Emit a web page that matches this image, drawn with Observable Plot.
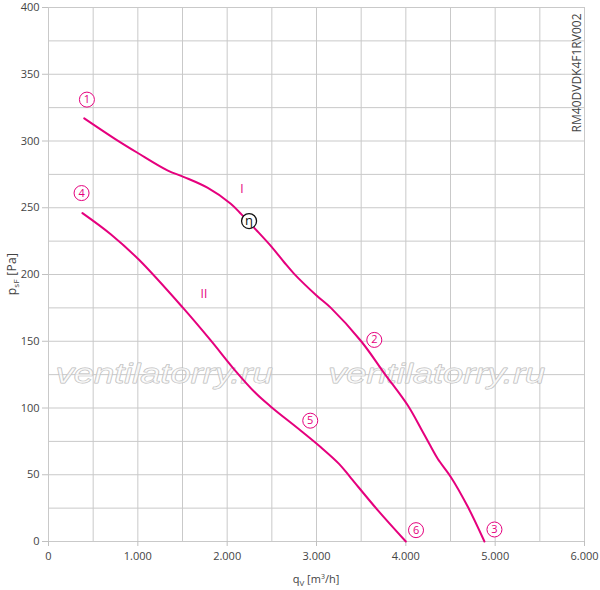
<!DOCTYPE html>
<html><head><meta charset="utf-8">
<script src="https://cdn.jsdelivr.net/npm/d3@7"></script>
<script src="https://cdn.jsdelivr.net/npm/@observablehq/plot@0.6"></script>
<style>body{margin:0;background:#fff;font-family:"Open Sans",sans-serif}</style>
</head><body><div id="chart"></div>
<script>
// Curve I (points 1 -> 2 -> 3)
const curve1Q = [400, 770, 1000, 1331, 1517, 1779, 2040, 2160, 2330, 2500, 2640, 2750, 3000, 3161, 3500, 3759, 4021, 4170, 4264, 4357, 4507, 4694, 4880];
const curve1P = [317, 300.5, 291, 278, 273, 265, 253, 245, 233, 220.5, 209, 200.5, 184.3, 175, 150, 126, 102, 84.5, 73, 62, 48, 26, 0];
// Curve II (points 4 -> 5 -> 6)
const curve2Q = [380, 700, 1013, 1499, 1816, 2078, 2321, 2489, 2825, 3049, 3255, 3386, 3685, 4000];
const curve2P = [246, 230, 211, 175.5, 150.6, 129, 111, 101, 83, 70.6, 58, 47.5, 23.5, 0];
// circled point labels
const pointText = ["1", "2", "3", "4", "5", "6"];
const pointQ = [430, 3647, 4992, 370, 2930, 4114];
const pointP = [331, 151, 9, 261, 90.5, 8.5];
// curve names
const curveText = ["I", "II"];
const curveQ = [2165, 1740];
const curveP = [264, 185];
// efficiency marker
const etaText = ["η"];
const etaQ = [2245];
const etaP = [240];
// ticks
const xTicks = [0, 1000, 2000, 3000, 4000, 5000, 6000];
const yTicks = [0, 50, 100, 150, 200, 250, 300, 350, 400];
const xGrid = [0, 500, 1000, 1500, 2000, 2500, 3000, 3500, 4000, 4500, 5000, 5500, 6000];
const yGrid = [0, 25, 50, 75, 100, 125, 150, 175, 200, 225, 250, 275, 300, 325, 350, 375, 400];
const modelText = ["RM40DVDK4F1RV002"];
const watermarkText = ["ventilatorry.ru", "ventilatorry.ru"];
const watermarkQ = [1295, 4345];
const watermarkP = [119, 119];

const c1 = curve1Q.map((q, i) => ({q, p: curve1P[i]}));
const c2 = curve2Q.map((q, i) => ({q, p: curve2P[i]}));
const pts = pointText.map((t, i) => ({t, q: pointQ[i], p: pointP[i]}));
const names = curveText.map((t, i) => ({t, q: curveQ[i], p: curveP[i]}));
const eta = etaText.map((t, i) => ({t, q: etaQ[i], p: etaP[i]}));
const wm = watermarkText.map((t, i) => ({t, q: watermarkQ[i], p: watermarkP[i]}));

const fmt = d3.formatLocale({decimal: ",", thousands: ".", grouping: [3], currency: ["", ""]}).format(",");
const MAG = "#e5007d";

const plot = Plot.plot({
  width: 600, height: 590,
  marginLeft: 48, marginRight: 16, marginTop: 7, marginBottom: 49,
  style: {fontFamily: "'Open Sans', sans-serif", background: "#fff"},
  x: {domain: [0, 6000]},
  y: {domain: [0, 400]},
  marks: [
    Plot.gridX(xGrid, {stroke: "#c9c9c9", strokeOpacity: 1}),
    Plot.gridY(yGrid, {stroke: "#c9c9c9", strokeOpacity: 1}),
    Plot.axisX(xTicks, {tickFormat: fmt, tickSize: 5, tickPadding: 6, stroke: "#c0c0c0", fill: "#444", fontSize: 11, label: null}),
    Plot.axisY(yTicks, {tickSize: 6, tickPadding: 3, stroke: "#c0c0c0", fill: "#444", fontSize: 11, label: null}),
    Plot.text(wm, {x: "q", y: "p", text: "t", fontSize: 28, fontStyle: "italic", fontFamily: "Liberation Sans, Arial, sans-serif", fill: "#fff", fillOpacity: 0.6, stroke: "#b8b8b8", strokeWidth: 0.9, textAnchor: "middle", lineAnchor: "bottom"}),
    Plot.line(c1, {x: "q", y: "p", stroke: MAG, strokeWidth: 2, curve: "catmull-rom"}),
    Plot.line(c2, {x: "q", y: "p", stroke: MAG, strokeWidth: 2, curve: "catmull-rom"}),
    Plot.dot(pts, {x: "q", y: "p", r: 7.5, stroke: MAG, strokeWidth: 1, fill: "#fff"}),
    Plot.text(pts, {x: "q", y: "p", text: "t", fill: MAG, fontSize: 11}),
    Plot.text(names, {x: "q", y: "p", text: "t", fill: MAG, fontSize: 12}),
    Plot.dot(eta, {x: "q", y: "p", r: 7.5, stroke: "#111", strokeWidth: 1.3, fill: "#fff"}),
    Plot.text(eta, {x: "q", y: "p", text: "t", fill: "#111", fontSize: 13}),
    Plot.text(modelText, {frameAnchor: "top-right", rotate: -90, textAnchor: "end", dx: -12, dy: 6, fill: "#444", fontSize: 12, letterSpacing: "0.4px"})
  ]
});
document.getElementById("chart").appendChild(plot);

const svg = d3.select(plot);
// stretch the watermark like the original
svg.selectAll("text").filter(function() { return this.textContent === "ventilatorry.ru"; })
  .attr("textLength", 217).attr("lengthAdjust", "spacingAndGlyphs");
// y axis label
const yl = svg.append("text")
  .attr("transform", "translate(16,274) rotate(-90)")
  .attr("text-anchor", "middle")
  .attr("fill", "#444")
  .attr("font-size", 12)
  .attr("letter-spacing", "0.3px");
yl.append("tspan").text("p");
yl.append("tspan").attr("font-size", 8).attr("dy", 3).text("sF");
yl.append("tspan").attr("dy", -3).text(" [Pa]");
// x axis label
const xl = svg.append("text")
  .attr("x", 316).attr("y", 583)
  .attr("text-anchor", "middle")
  .attr("fill", "#444")
  .attr("font-size", 11);
xl.append("tspan").text("q");
xl.append("tspan").attr("font-size", 8).attr("dy", 3).text("V");
xl.append("tspan").attr("dy", -3).text(" [m");
xl.append("tspan").attr("font-size", 7).attr("dy", -4).text("3");
xl.append("tspan").attr("dy", 4).text("/h]");
</script></body></html>
